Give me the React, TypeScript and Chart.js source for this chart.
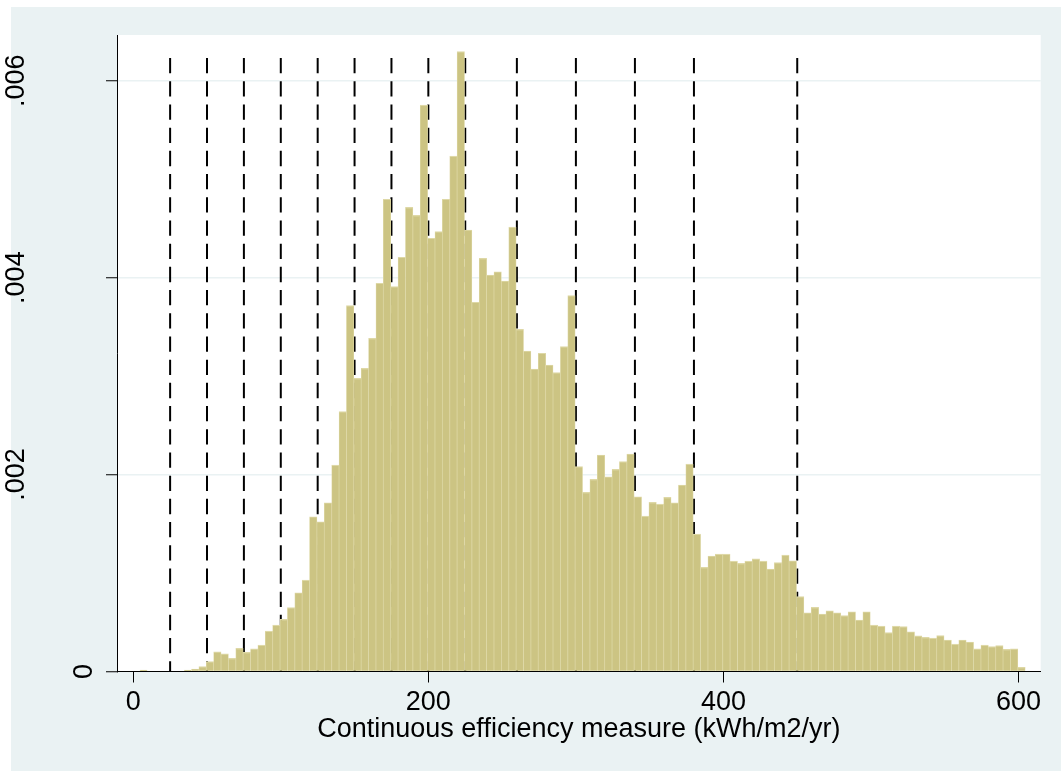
import React, { useEffect, useRef } from "react";
import { Chart, registerables } from "chart.js";

Chart.register(...registerables);

// ---- data ----
const BIN_START = -0.5;
const BIN_WIDTH = 5;
const density = [
  0, 0.000015, 0, 0, 0, 0, 0, 0.000015, 0.000025, 0.00005,
  0.0001, 0.0002, 0.00018, 0.000134, 0.000236, 0.000195, 0.000229, 0.000269, 0.000411, 0.000472,
  0.00053, 0.000648, 0.0008, 0.000929, 0.001572, 0.001521, 0.001714, 0.002097, 0.002639, 0.003715,
  0.002978, 0.003079, 0.003384, 0.003943, 0.004796, 0.003908, 0.004207, 0.004714, 0.004633, 0.005753,
  0.0044, 0.004467, 0.004796, 0.005235, 0.006295, 0.004484, 0.00375, 0.004196, 0.004027, 0.00406,
  0.003966, 0.004514, 0.003475, 0.003255, 0.003072, 0.003232, 0.003113, 0.003035, 0.003299, 0.003817,
  0.00208, 0.00182, 0.001952, 0.002199, 0.001978, 0.002053, 0.002131, 0.002209, 0.001775, 0.001579,
  0.001718, 0.001701, 0.001769, 0.001714, 0.001894, 0.002107, 0.001396, 0.001058, 0.001173, 0.001193,
  0.001193, 0.001122, 0.001099, 0.001122, 0.001143, 0.001122, 0.001041, 0.001105, 0.001183, 0.001125,
  0.00076, 0.000597, 0.000652, 0.000584, 0.000617, 0.000597, 0.000567, 0.000607, 0.000523, 0.000607,
  0.000472, 0.000462, 0.000394, 0.000462, 0.000455, 0.000404, 0.000361, 0.000347, 0.00034, 0.000364,
  0.00032, 0.000279, 0.00032, 0.0003, 0.000229, 0.000269, 0.000252, 0.000262, 0.000225, 0.000229,
  0.000043,
];
const cutoffs = [25, 50, 75, 100, 125, 150, 175, 200, 225, 260, 300, 340, 380, 450];
const CUTOFF_TOP = 0.00623;
const xTicks = [0, 200, 400, 600];
const xTickLabels = ["0", "200", "400", "600"];
const yTicks = [0, 0.002, 0.004, 0.006];
const yTickLabels = ["0", ".002", ".004", ".006"];
const xTitle = "Continuous efficiency measure (kWh/m2/yr)";
const X_MIN = -11;
const X_MAX = 615;
const Y_MIN = 0;
const Y_MAX = 0.006464;

// ---- styles ----
const GRAPH_BG = "#EAF2F3";
const GRID = "#EAF2F3";
const BAR_FILL = "rgb(204,196,131)";
const BAR_LINE = "rgb(222,216,166)";
const FONT = "'Liberation Sans', Arial, sans-serif";
const FONT_SIZE = 27;

const bgPlugin = {
  id: "stataBg",
  beforeDraw(chart: any) {
    const { ctx, chartArea: a, width, height } = chart;
    ctx.save();
    ctx.fillStyle = "#ffffff";
    ctx.fillRect(0, 0, width, height);
    ctx.fillStyle = GRAPH_BG;
    ctx.fillRect(11, 7, width - 11, height - 7);
    ctx.fillStyle = "#ffffff";
    ctx.fillRect(a.left, a.top, a.right - a.left, a.bottom - a.top);
    ctx.restore();
  },
};

const yLabelPlugin = {
  id: "stataYLabels",
  afterDraw(chart: any) {
    const { ctx } = chart;
    const ys = chart.scales.y;
    ctx.save();
    ctx.font = `${FONT_SIZE}px ${FONT}`;
    ctx.fillStyle = "#000000";
    ctx.textAlign = "center";
    ctx.textBaseline = "middle";
    yTicks.forEach((v, i) => {
      const label = yTickLabels[i];
      const py = ys.getPixelForValue(v);
      const w = ctx.measureText(label).width;
      const cx = 112.2 - 1.813 * w;
      ctx.save();
      ctx.translate(cx, py);
      ctx.rotate(-Math.PI / 2);
      ctx.fillText(label, 0, 0);
      ctx.restore();
    });
    ctx.restore();
  },
};

export default function App() {
  const ref = useRef<HTMLCanvasElement | null>(null);

  useEffect(() => {
    if (!ref.current) return;
    Chart.defaults.font.family = FONT;

    const barData = density.map((v, i) => ({
      x: BIN_START + BIN_WIDTH * (i + 0.5),
      y: v,
    }));

    const lineSets = cutoffs.map((c) => ({
      type: "line" as const,
      data: [
        { x: c, y: CUTOFF_TOP },
        { x: c, y: 0 },
      ],
      borderColor: "#000000",
      borderWidth: 2,
      borderDash: [15.3, 7.9],
      pointRadius: 0,
      fill: false,
      order: 2,
    }));

    const chart = new Chart(ref.current, {
      type: "bar",
      data: {
        datasets: [
          {
            type: "bar" as const,
            data: barData,
            backgroundColor: BAR_FILL,
            borderColor: BAR_LINE,
            borderWidth: { top: 1.2, left: 0.7, right: 0.7, bottom: 0 },
            borderSkipped: false,
            barPercentage: 1,
            categoryPercentage: 1,
            order: 1,
          } as any,
          ...(lineSets as any[]),
        ],
      },
      options: {
        animation: false,
        responsive: false,
        devicePixelRatio: 1,
        layout: { padding: { left: 0, top: 35, right: 20.3, bottom: 0 } },
        plugins: {
          legend: { display: false },
          tooltip: { enabled: false },
        },
        scales: {
          x: {
            type: "linear",
            offset: false,
            min: X_MIN,
            max: X_MAX,
            afterBuildTicks: (scale: any) => {
              scale.ticks = xTicks.map((v) => ({ value: v }));
            },
            afterFit: (scale: any) => {
              scale.height = 99.5;
            },
            ticks: {
              autoSkip: false,
              maxRotation: 0,
              minRotation: 0,
              padding: 3.4,
              color: "#000000",
              font: { size: FONT_SIZE, family: FONT },
              callback: (v: any) => {
                const idx = xTicks.indexOf(Number(v));
                return idx >= 0 ? xTickLabels[idx] : "";
              },
            },
            grid: {
              offset: false,
              drawOnChartArea: false,
              drawTicks: true,
              tickLength: 11,
              tickColor: "#000000",
              tickWidth: 1,
            },
            border: { display: true, color: "#000000", width: 1, z: 1 },
            title: {
              display: true,
              text: xTitle,
              color: "#000000",
              font: { size: FONT_SIZE, family: FONT },
              padding: { top: 0, bottom: 25.2 },
            },
          },
          y: {
            type: "linear",
            min: Y_MIN,
            max: Y_MAX,
            afterBuildTicks: (scale: any) => {
              scale.ticks = yTicks.map((v) => ({ value: v }));
            },
            afterFit: (scale: any) => {
              scale.width = 117;
            },
            ticks: { display: false },
            grid: {
              color: (c: any) => (c.tick && c.tick.value === 0 ? "rgba(0,0,0,0)" : GRID),
              lineWidth: 1.5,
              drawTicks: true,
              tickLength: 11,
              tickColor: "#000000",
              tickWidth: 1,
            },
            border: { display: true, color: "#000000", width: 1, z: 1 },
          },
        },
      },
      plugins: [bgPlugin, yLabelPlugin],
    } as any);

    return () => chart.destroy();
  }, []);

  return (
    <div style={{ position: "fixed", left: 0, top: 0, width: 1061, height: 771 }}>
      <canvas ref={ref} width={1061} height={771} style={{ width: 1061, height: 771, display: "block" }} />
    </div>
  );
}
